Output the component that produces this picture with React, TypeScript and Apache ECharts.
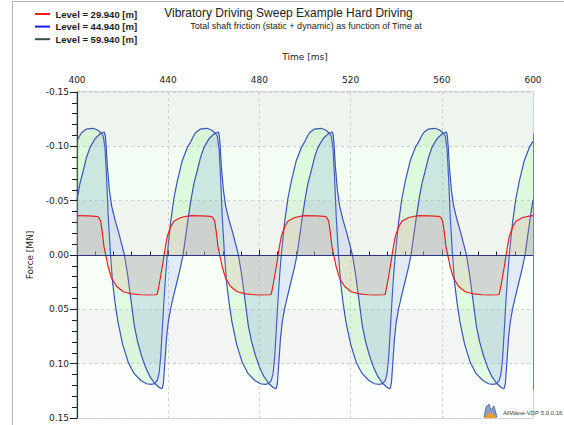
import React, { useEffect, useRef } from "react";
import * as echarts from "echarts";

const seriesNames = ["Level = 29.940 [m]", "Level = 44.940 [m]", "Level = 59.940 [m]"];
const legendColors = ["#ff1a1a", "#1a1aff", "#35504a"];

const titleText = "Vibratory Driving Sweep Example Hard Driving";
const subtitleText = "Total shaft friction (static + dynamic) as function of Time at";
const xName = "Time [ms]";
const yName = "Force [MN]";
const watermark = "AllWave-VDP 5.0.0.16";

// Level 29.940 m (red)
const level30Time = [
  400, 405, 408.5, 409.4, 409.8, 410.4, 411.1, 411.8, 412.6, 413.7, 415.2, 417.4, 420.3, 424, 427.6, 431, 434.5, 435.2, 435.5, 436.4, 437.4, 438.2, 438.9, 439.6, 441.1, 442.5, 445.5, 448.4,
  450, 455, 458.5, 459.4, 459.8, 460.4, 461.1, 461.8, 462.6, 463.7, 465.2, 467.4, 470.3, 474, 477.6, 481, 484.5, 485.2, 485.5, 486.4, 487.4, 488.2, 488.9, 489.6, 491.1, 492.5, 495.5, 498.4,
  500, 505, 508.5, 509.4, 509.8, 510.4, 511.1, 511.8, 512.6, 513.7, 515.2, 517.4, 520.3, 524, 527.6, 531, 534.5, 535.2, 535.5, 536.4, 537.4, 538.2, 538.9, 539.6, 541.1, 542.5, 545.5, 548.4,
  550, 555, 558.5, 559.4, 559.8, 560.4, 561.1, 561.8, 562.6, 563.7, 565.2, 567.4, 570.3, 574, 577.6, 581, 584.5, 585.2, 585.5, 586.4, 587.4, 588.2, 588.9, 589.6, 591.1, 592.5, 595.5, 598.4,
  600,
];
const level30Force = [
  -0.0362, -0.036, -0.0356, -0.035, -0.0335, -0.031, -0.021, -0.008, 0, 0.011, 0.0215, 0.029, 0.0338, 0.0358, 0.0366, 0.0368, 0.0366, 0.036, 0.033, 0.023, 0.011, 0, -0.0092, -0.017, -0.026, -0.031, -0.0345, -0.0357,
  -0.0362, -0.036, -0.0356, -0.035, -0.0335, -0.031, -0.021, -0.008, 0, 0.011, 0.0215, 0.029, 0.0338, 0.0358, 0.0366, 0.0368, 0.0366, 0.036, 0.033, 0.023, 0.011, 0, -0.0092, -0.017, -0.026, -0.031, -0.0345, -0.0357,
  -0.0362, -0.036, -0.0356, -0.035, -0.0335, -0.031, -0.021, -0.008, 0, 0.011, 0.0215, 0.029, 0.0338, 0.0358, 0.0366, 0.0368, 0.0366, 0.036, 0.033, 0.023, 0.011, 0, -0.0092, -0.017, -0.026, -0.031, -0.0345, -0.0357,
  -0.0362, -0.036, -0.0356, -0.035, -0.0335, -0.031, -0.021, -0.008, 0, 0.011, 0.0215, 0.029, 0.0338, 0.0358, 0.0366, 0.0368, 0.0366, 0.036, 0.033, 0.023, 0.011, 0, -0.0092, -0.017, -0.026, -0.031, -0.0345, -0.0357,
  -0.0362,
];

// Level 44.940 m (leading curve)
const level45Time = [
  400, 401, 402, 404, 407, 409, 410.5, 411.5, 412.3, 413, 413.7, 414.7, 415.6, 416.7, 418, 420, 422.5, 425, 428, 430.5, 432.5, 434, 435.2, 436, 436.7, 437.4, 438.2, 438.9, 439.6, 440.4, 441.1, 442.5, 444, 446.2, 448.4,
  450, 451, 452, 454, 457, 459, 460.5, 461.5, 462.3, 463, 463.7, 464.7, 465.6, 466.7, 468, 470, 472.5, 475, 478, 480.5, 482.5, 484, 485.2, 486, 486.7, 487.4, 488.2, 488.9, 489.6, 490.4, 491.1, 492.5, 494, 496.2, 498.4,
  500, 501, 502, 504, 507, 509, 510.5, 511.5, 512.3, 513, 513.7, 514.7, 515.6, 516.7, 518, 520, 522.5, 525, 528, 530.5, 532.5, 534, 535.2, 536, 536.7, 537.4, 538.2, 538.9, 539.6, 540.4, 541.1, 542.5, 544, 546.2, 548.4,
  550, 551, 552, 554, 557, 559, 560.5, 561.5, 562.3, 563, 563.7, 564.7, 565.6, 566.7, 568, 570, 572.5, 575, 578, 580.5, 582.5, 584, 585.2, 586, 586.7, 587.4, 588.2, 588.9, 589.6, 590.4, 591.1, 592.5, 594, 596.2, 598.4,
  600,
];
const level45Force = [
  -0.1046, -0.109, -0.1125, -0.1158, -0.1166, -0.115, -0.1125, -0.1095, -0.098, -0.07, -0.035, 0, 0.025, 0.044, 0.062, 0.082, 0.099, 0.109, 0.1155, 0.1185, 0.119, 0.1183, 0.1155, 0.109, 0.094, 0.069, 0.04, 0.018, 0, -0.017, -0.031, -0.052, -0.068, -0.087, -0.099,
  -0.1046, -0.109, -0.1125, -0.1158, -0.1166, -0.115, -0.1125, -0.1095, -0.098, -0.07, -0.035, 0, 0.025, 0.044, 0.062, 0.082, 0.099, 0.109, 0.1155, 0.1185, 0.119, 0.1183, 0.1155, 0.109, 0.094, 0.069, 0.04, 0.018, 0, -0.017, -0.031, -0.052, -0.068, -0.087, -0.099,
  -0.1046, -0.109, -0.1125, -0.1158, -0.1166, -0.115, -0.1125, -0.1095, -0.098, -0.07, -0.035, 0, 0.025, 0.044, 0.062, 0.082, 0.099, 0.109, 0.1155, 0.1185, 0.119, 0.1183, 0.1155, 0.109, 0.094, 0.069, 0.04, 0.018, 0, -0.017, -0.031, -0.052, -0.068, -0.087, -0.099,
  -0.1046, -0.109, -0.1125, -0.1158, -0.1166, -0.115, -0.1125, -0.1095, -0.098, -0.07, -0.035, 0, 0.025, 0.044, 0.062, 0.082, 0.099, 0.109, 0.1155, 0.1185, 0.119, 0.1183, 0.1155, 0.109, 0.094, 0.069, 0.04, 0.018, 0, -0.017, -0.031, -0.052, -0.068, -0.087, -0.099,
  -0.1046,
];

// Level 59.940 m (lagging curve)
const level60Time = [
  400, 401.3, 402.8, 404.2, 405.7, 407.9, 410.1, 411.5, 412, 412.4, 412.8, 413.3, 414.2, 415.2, 416.7, 418.1, 419.6, 420.8, 422.2, 423.7, 425.2, 426.6, 428.2, 430, 432, 434, 435.8, 437, 437.4, 437.9, 438.5, 439.2, 440, 441, 442.3, 443.7, 445.2, 446.5, 447.5, 448.7, 449.5,
  450, 451.3, 452.8, 454.2, 455.7, 457.9, 460.1, 461.5, 462, 462.4, 462.8, 463.3, 464.2, 465.2, 466.7, 468.1, 469.6, 470.8, 472.2, 473.7, 475.2, 476.6, 478.2, 480, 482, 484, 485.8, 487, 487.4, 487.9, 488.5, 489.2, 490, 491, 492.3, 493.7, 495.2, 496.5, 497.5, 498.7, 499.5,
  500, 501.3, 502.8, 504.2, 505.7, 507.9, 510.1, 511.5, 512, 512.4, 512.8, 513.3, 514.2, 515.2, 516.7, 518.1, 519.6, 520.8, 522.2, 523.7, 525.2, 526.6, 528.2, 530, 532, 534, 535.8, 537, 537.4, 537.9, 538.5, 539.2, 540, 541, 542.3, 543.7, 545.2, 546.5, 547.5, 548.7, 549.5,
  550, 551.3, 552.8, 554.2, 555.7, 557.9, 560.1, 561.5, 562, 562.4, 562.8, 563.3, 564.2, 565.2, 566.7, 568.1, 569.6, 570.8, 572.2, 573.7, 575.2, 576.6, 578.2, 580, 582, 584, 585.8, 587, 587.4, 587.9, 588.5, 589.2, 590, 591, 592.3, 593.7, 595.2, 596.5, 597.5, 598.7, 599.5,
  600,
];
const level60Force = [
  -0.051, -0.066, -0.078, -0.09, -0.099, -0.107, -0.1115, -0.1128, -0.113, -0.11, -0.1, -0.082, -0.06, -0.045, -0.032, -0.022, -0.01, 0, 0.018, 0.042, 0.066, 0.08, 0.092, 0.103, 0.112, 0.118, 0.1215, 0.123, 0.1225, 0.118, 0.1, 0.078, 0.062, 0.05, 0.038, 0.026, 0.013, 0, -0.015, -0.033, -0.044,
  -0.051, -0.066, -0.078, -0.09, -0.099, -0.107, -0.1115, -0.1128, -0.113, -0.11, -0.1, -0.082, -0.06, -0.045, -0.032, -0.022, -0.01, 0, 0.018, 0.042, 0.066, 0.08, 0.092, 0.103, 0.112, 0.118, 0.1215, 0.123, 0.1225, 0.118, 0.1, 0.078, 0.062, 0.05, 0.038, 0.026, 0.013, 0, -0.015, -0.033, -0.044,
  -0.051, -0.066, -0.078, -0.09, -0.099, -0.107, -0.1115, -0.1128, -0.113, -0.11, -0.1, -0.082, -0.06, -0.045, -0.032, -0.022, -0.01, 0, 0.018, 0.042, 0.066, 0.08, 0.092, 0.103, 0.112, 0.118, 0.1215, 0.123, 0.1225, 0.118, 0.1, 0.078, 0.062, 0.05, 0.038, 0.026, 0.013, 0, -0.015, -0.033, -0.044,
  -0.051, -0.066, -0.078, -0.09, -0.099, -0.107, -0.1115, -0.1128, -0.113, -0.11, -0.1, -0.082, -0.06, -0.045, -0.032, -0.022, -0.01, 0, 0.018, 0.042, 0.066, 0.08, 0.092, 0.103, 0.112, 0.118, 0.1215, 0.123, 0.1225, 0.118, 0.1, 0.078, 0.062, 0.05, 0.038, 0.026, 0.013, 0, -0.015, -0.033, -0.044,
  -0.051,
];

const xMin = 400;
const xMax = 600;
const xStep = 40;
const yMin = -0.15;
const yMax = 0.15;
const yStep = 0.05;
const bandColors = ["#eef4ee", "#f4fdf4", "#eff4ef", "#f7fff7", "#f2f5f2", "#fbfefb"];

const pairs = (t: number[], v: number[]) => t.map((x, i) => [x, v[i]]);

const LABEL_FONT = "DejaVu Sans";
const TEXT_FONT = "Liberation Sans";

export default function App() {
  const ref = useRef<HTMLDivElement>(null);

  useEffect(() => {
    if (!ref.current) return;
    const chart = echarts.init(ref.current, undefined, { renderer: "svg" });

    const lineBlue = "#3a56b6";
    const legendRows = [14, 26.6, 39.2];

    const legendGraphics: any[] = [];
    seriesNames.forEach((name, i) => {
      legendGraphics.push({
        type: "line",
        silent: true,
        z: 100,
        shape: { x1: 35, y1: legendRows[i], x2: 50, y2: legendRows[i] },
        style: { stroke: legendColors[i], lineWidth: 2 },
      });
      legendGraphics.push({
        type: "text",
        silent: true,
        z: 100,
        x: 55.5,
        y: legendRows[i],
        style: {
          text: name,
          fontFamily: TEXT_FONT,
          fontSize: 9.5,
          fontWeight: "bold",
          fill: "#1c1c1c",
          textAlign: "left",
          textVerticalAlign: "middle",
        },
      });
    });

    const option: any = {
      animation: false,
      backgroundColor: "#ffffff",
      grid: {
        left: 77,
        top: 92,
        width: 456,
        height: 326,
        show: true,
        borderColor: "#a8a8a8",
        borderWidth: 1,
        backgroundColor: "transparent",
      },
      xAxis: {
        type: "value",
        position: "top",
        min: xMin,
        max: xMax,
        interval: xStep,
        axisLine: { show: true, lineStyle: { color: "#202020", width: 1 } },
        axisTick: { show: true, length: 5, lineStyle: { color: "#202020" } },
        minorTick: { show: true, splitNumber: 5, length: 3.5, lineStyle: { color: "#202020" } },
        axisLabel: { fontFamily: LABEL_FONT, fontSize: 9, color: "#222", margin: 8 },
        splitLine: { show: true, lineStyle: { color: "#d0d0d0", type: [3, 3], width: 1 } },
      },
      yAxis: {
        type: "value",
        inverse: true,
        min: yMin,
        max: yMax,
        interval: yStep,
        axisLine: { show: true, lineStyle: { color: "#22307a", width: 1.2 } },
        axisTick: { show: true, length: 7, lineStyle: { color: "#202020" } },
        minorTick: { show: true, splitNumber: 5, length: 5, lineStyle: { color: "#202020" } },
        axisLabel: {
          fontFamily: LABEL_FONT,
          fontSize: 9,
          color: "#222",
          margin: 8,
          formatter: (v: number) => (Math.abs(v) < 1e-9 ? "0.00" : v.toFixed(2)),
        },
        splitLine: { show: true, lineStyle: { color: "#d0d0d0", type: [3, 3], width: 1 } },
        splitArea: { show: true, areaStyle: { color: bandColors } },
      },
      series: [
        {
          name: seriesNames[1],
          type: "line",
          data: pairs(level45Time, level45Force),
          showSymbol: false,
          symbol: "none",
          lineStyle: { color: lineBlue, width: 1.2 },
          itemStyle: { color: lineBlue },
          areaStyle: { color: "rgba(140,240,140,0.30)", origin: 0 },
          z: 2,
          markLine: {
            silent: true,
            symbol: "none",
            label: { show: false },
            lineStyle: { color: "#6b80c8", width: 1, type: "solid" },
            data: [[{ coord: [600, -0.112] }, { coord: [600, 0.124] }]],
          },
        },
        {
          name: seriesNames[2],
          type: "line",
          data: pairs(level60Time, level60Force),
          showSymbol: false,
          symbol: "none",
          lineStyle: { color: lineBlue, width: 1.2 },
          itemStyle: { color: lineBlue },
          areaStyle: { color: "rgba(120,140,240,0.25)", origin: 0 },
          z: 3,
        },
        {
          name: seriesNames[0],
          type: "line",
          data: pairs(level30Time, level30Force),
          showSymbol: false,
          symbol: "none",
          lineStyle: { color: "#e52222", width: 1.2 },
          itemStyle: { color: "#e52222" },
          areaStyle: { color: "rgba(220,150,150,0.30)", origin: 0 },
          z: 4,
          markLine: {
            silent: true,
            symbol: "none",
            label: { show: false },
            lineStyle: { color: "#2a3580", width: 1.2, type: "solid" },
            data: [{ yAxis: 0 }],
          },
        },
      ],
      graphic: [
        {
          type: "line",
          silent: true,
          z: 100,
          shape: { x1: 12.5, y1: 2, x2: 12.5, y2: 425 },
          style: { stroke: "#b4b4b4", lineWidth: 1 },
        },
        {
          type: "line",
          silent: true,
          z: 100,
          shape: { x1: 12, y1: 1.5, x2: 564, y2: 1.5 },
          style: { stroke: "#b4b4b4", lineWidth: 1 },
        },
        ...legendGraphics,
        {
          type: "text",
          z: 100,
          x: 288.5,
          y: 13,
          style: {
            text: titleText,
            fontFamily: TEXT_FONT,
            fontSize: 12,
            fill: "#222",
            textAlign: "center",
            textVerticalAlign: "middle",
          },
        },
        {
          type: "text",
          z: 100,
          x: 306,
          y: 25.5,
          style: {
            text: subtitleText,
            fontFamily: TEXT_FONT,
            fontSize: 9,
            fill: "#222",
            textAlign: "center",
            textVerticalAlign: "middle",
          },
        },
        {
          type: "text",
          z: 100,
          x: 305,
          y: 57,
          style: {
            text: xName,
            fontFamily: LABEL_FONT,
            fontSize: 9,
            fill: "#222",
            textAlign: "center",
            textVerticalAlign: "middle",
          },
        },
        {
          type: "text",
          z: 100,
          x: 30,
          y: 255,
          rotation: Math.PI / 2,
          style: {
            text: yName,
            fontFamily: LABEL_FONT,
            fontSize: 9,
            fill: "#222",
            textAlign: "center",
            textVerticalAlign: "middle",
          },
        },
        {
          type: "polygon",
          silent: true,
          z: 100,
          shape: { points: [[484, 417], [486, 407], [489, 404], [491, 410], [494, 406], [497, 417]] },
          style: { fill: "#8a9cc8", stroke: "#33407a", lineWidth: 0.6 },
        },
        {
          type: "polygon",
          silent: true,
          z: 101,
          shape: { points: [[484, 418], [490, 412], [497, 418]] },
          style: { fill: "#f0a020" },
        },
        {
          type: "text",
          silent: true,
          z: 101,
          x: 503,
          y: 413,
          style: {
            text: watermark,
            fontFamily: TEXT_FONT,
            fontSize: 6,
            fill: "#444",
            textAlign: "left",
            textVerticalAlign: "middle",
          },
        },
      ],
    };

    chart.setOption(option);
    return () => chart.dispose();
  }, []);

  return (
    <div
      ref={ref}
      style={{ position: "absolute", left: 0, top: 0, width: 564, height: 425, background: "#fff" }}
    />
  );
}
